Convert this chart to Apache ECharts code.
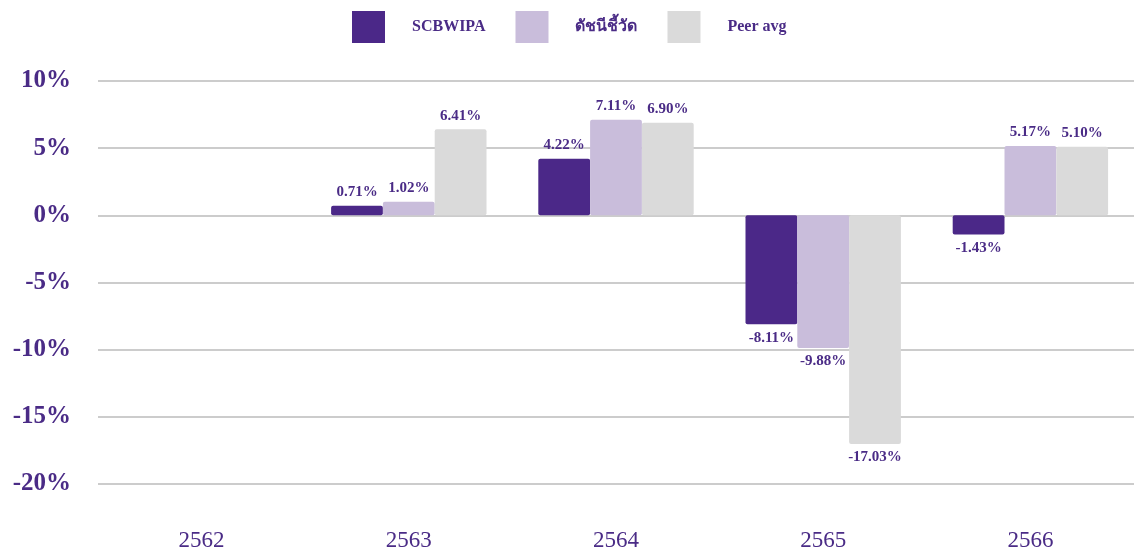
<!DOCTYPE html>
<html>
<head>
<meta charset="utf-8">
<script src="https://cdn.jsdelivr.net/npm/echarts@6/dist/echarts.min.js"></script>
<style>
html, body { margin: 0; padding: 0; background: #fff; }
#main { width: 1134px; height: 557px; }
</style>
</head>
<body>
<div id="main"></div>
<script>
var years = ['2562', '2563', '2564', '2565', '2566'];
var scbwipa = [null, 0.71, 4.22, -8.11, -1.43];
var benchmark = [null, 1.02, 7.11, -9.88, 5.17];
var peerAvg = [null, 6.41, 6.90, -17.03, 5.10];
var seriesNames = ['SCBWIPA', 'ดัชนีชี้วัด', 'Peer avg'];
var colors = ['#4b2888', '#c9bddb', '#dadada'];

var textColor = '#4a2b86';
var serif = '"Liberation Serif", "DejaVu Serif", serif';

function withLabels(values) {
    return values.map(function (v) {
        if (v === null) return '-';
        return {
            value: v,
            label: { position: v < 0 ? 'bottom' : 'top' }
        };
    });
}

function makeSeries(name, values, i) {
    return {
        name: name,
        type: 'bar',
        data: withLabels(values),
        barGap: '0%',
        barCategoryGap: '25%',
        itemStyle: { color: colors[i], borderRadius: 2 },
        label: {
            show: true,
            distance: 6,
            color: textColor,
            fontFamily: serif,
            fontWeight: 'bold',
            fontSize: 15,
            formatter: function (p) { return p.value.toFixed(2) + '%'; }
        }
    };
}

var chart = echarts.init(document.getElementById('main'));
chart.setOption({
    animation: false,
    color: colors,
    legend: {
        top: 6,
        left: 347,
        itemWidth: 33,
        itemHeight: 32,
        itemGap: 30,
        icon: 'rect',
        textStyle: {
            color: textColor,
            fontFamily: serif,
            fontWeight: 'bold',
            fontSize: 16,
            padding: [0, 0, 0, 22]
        },
        data: seriesNames
    },
    grid: {
        left: 98,
        right: -4,
        top: 81,
        bottom: 73,
        containLabel: false
    },
    xAxis: {
        type: 'category',
        data: years,
        axisLine: { show: false },
        axisTick: { show: false },
        axisLabel: {
            color: textColor,
            fontFamily: serif,
            fontSize: 23,
            margin: 45
        }
    },
    yAxis: {
        type: 'value',
        min: -20,
        max: 10,
        interval: 5,
        axisLine: { show: false },
        axisTick: { show: false },
        axisLabel: {
            color: textColor,
            fontFamily: serif,
            fontWeight: 'bold',
            fontSize: 25,
            margin: 27,
            formatter: '{value}%'
        },
        splitLine: { lineStyle: { color: '#cccccc', width: 2 } }
    },
    series: [
        makeSeries(seriesNames[0], scbwipa, 0),
        makeSeries(seriesNames[1], benchmark, 1),
        makeSeries(seriesNames[2], peerAvg, 2)
    ]
});
</script>
</body>
</html>
